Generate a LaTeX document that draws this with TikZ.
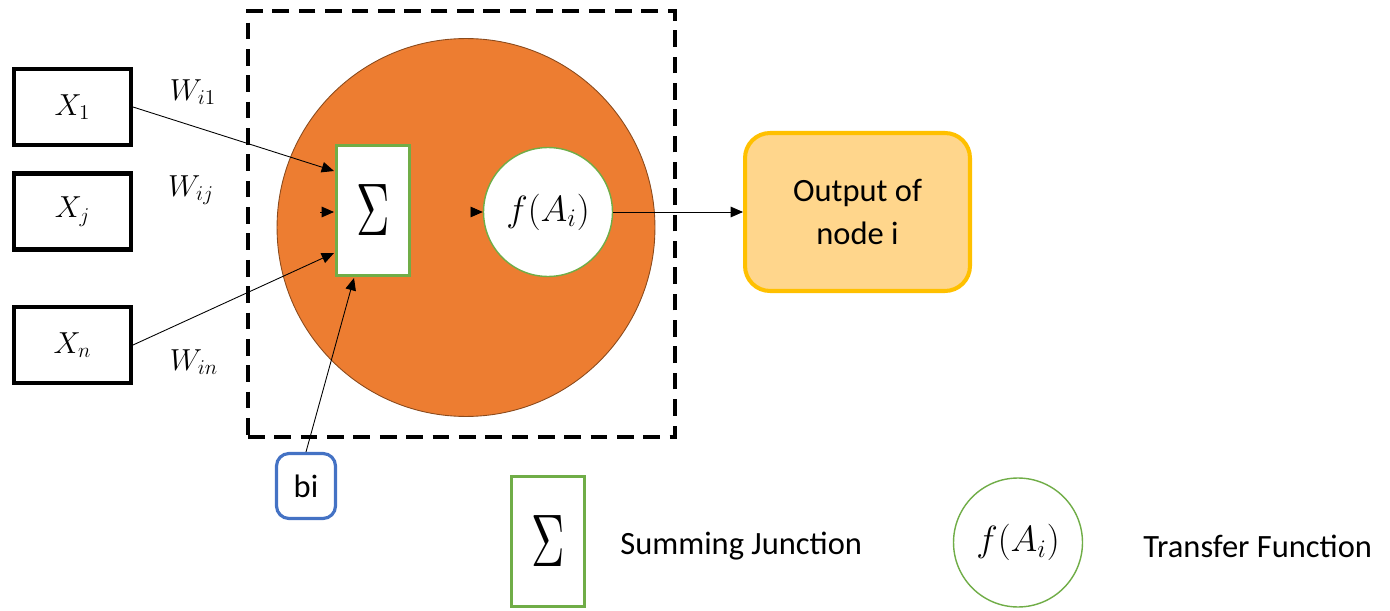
\documentclass[tikz,border=0pt]{standalone}
\usepackage{fontspec}
\usepackage{graphicx}
\newfontfamily\calib{Carlito}
\usetikzlibrary{arrows.meta,calc}
\definecolor{orng}{HTML}{ED7D31}
\definecolor{orngdark}{HTML}{8A4A1C}
\definecolor{grn}{HTML}{70AD47}
\definecolor{blu}{HTML}{4472C4}
\definecolor{gold}{HTML}{FFC000}
\definecolor{goldfill}{HTML}{FFD68C}
\newcommand{\mysig}{\resizebox{19pt}{29pt}{$\Sigma$}}
\begin{document}
\begin{tikzpicture}[x=0.02cm,y=-0.02cm,
  inbox/.style={draw=black,line width=2.3pt,minimum width=2.34cm,minimum height=1.52cm,inner sep=0pt,font=\fontsize{18}{21}\selectfont},
  sumbox/.style={draw=grn,line width=1.8pt,fill=white,minimum width=1.46cm,minimum height=2.6cm,inner sep=0pt},
  fcirc/.style={circle,draw=grn,line width=0.8pt,fill=white,minimum size=2.58cm,inner sep=0pt,font=\fontsize{20}{24}\selectfont},
  wlab/.style={inner sep=0pt,font=\fontsize{17.5}{20}\selectfont},
  arr/.style={line width=0.5pt,-{Triangle[length=7pt,width=6pt]}},
  calibtext/.style={inner sep=0pt,font=\calib\fontsize{18.5}{22}\selectfont,align=center}
]
\useasboundingbox (0,0) rectangle (1390,611);
% dashed frame
\node[draw=black,line width=2.3pt,dash pattern=on 9.5pt off 5.5pt,minimum width=8.54cm,minimum height=8.52cm,inner sep=0pt] (frame) at (461.5,224) {};
% neuron body
\node[circle,fill=orng,draw=orngdark,line width=0.5pt,minimum size=7.56cm,inner sep=0pt] (body) at (466,227.5) {};
% summing junction and transfer function
\node[sumbox] (sum) at (373,210.5) {\mysig};
\node[fcirc] (f) at (548,212) {$f(A_i)$};
% inputs
\node[inbox] (x1) at (72.5,107) {$X_1$};
\node[inbox] (xj) at (72.5,211.5) {$X_j$};
\node[inbox] (xn) at (72.5,345) {$X_n$};
% weights
\node[wlab] (w1) at (193,92) {$W_{i1}$};
\node[wlab] (wj) at (191,190) {$W_{ij}$};
\node[wlab] (wn) at (194,362) {$W_{in}$};
% output
\node[draw=gold,fill=goldfill,line width=2.3pt,rounded corners=0.5cm,minimum width=4.5cm,minimum height=3.16cm,calibtext] (out) at (857.5,212) {Output of\\[2pt]node i};
% bias
\node[draw=blu,line width=1.8pt,rounded corners=0.25cm,minimum width=1.18cm,minimum height=1.3cm,calibtext] (bi) at (306,486) {bi};
% connectors
\coordinate (t1) at (334,171);
\coordinate (sj) at (320,212);
\coordinate (t2) at (334,212);
\coordinate (t3) at (334,253);
\coordinate (tb) at (354,278);
\coordinate (sf) at (465,212);
\draw[arr] (x1.east) -- (t1);
\draw[arr] (sj) -- (t2);
\draw[arr] (xn.east) -- (t3);
\draw[arr] (bi.north) -- (tb);
\draw[line width=0.5pt,draw=orng,-{Triangle[length=7pt,width=6pt,color=black]}] (sf) -- (f.west);
\draw[arr] (f.east) -- (out.west);
% legend
\node[sumbox] (lsum) at (548,541.5) {\mysig};
\node[calibtext,anchor=west] (lsumtxt) at (620,546) {Summing Junction};
\node[fcirc] (lf) at (1018,542.5) {$f(A_i)$};
\node[calibtext,anchor=west] (lftxt) at (1143,546) {Transfer Function};
\end{tikzpicture}
\end{document}
